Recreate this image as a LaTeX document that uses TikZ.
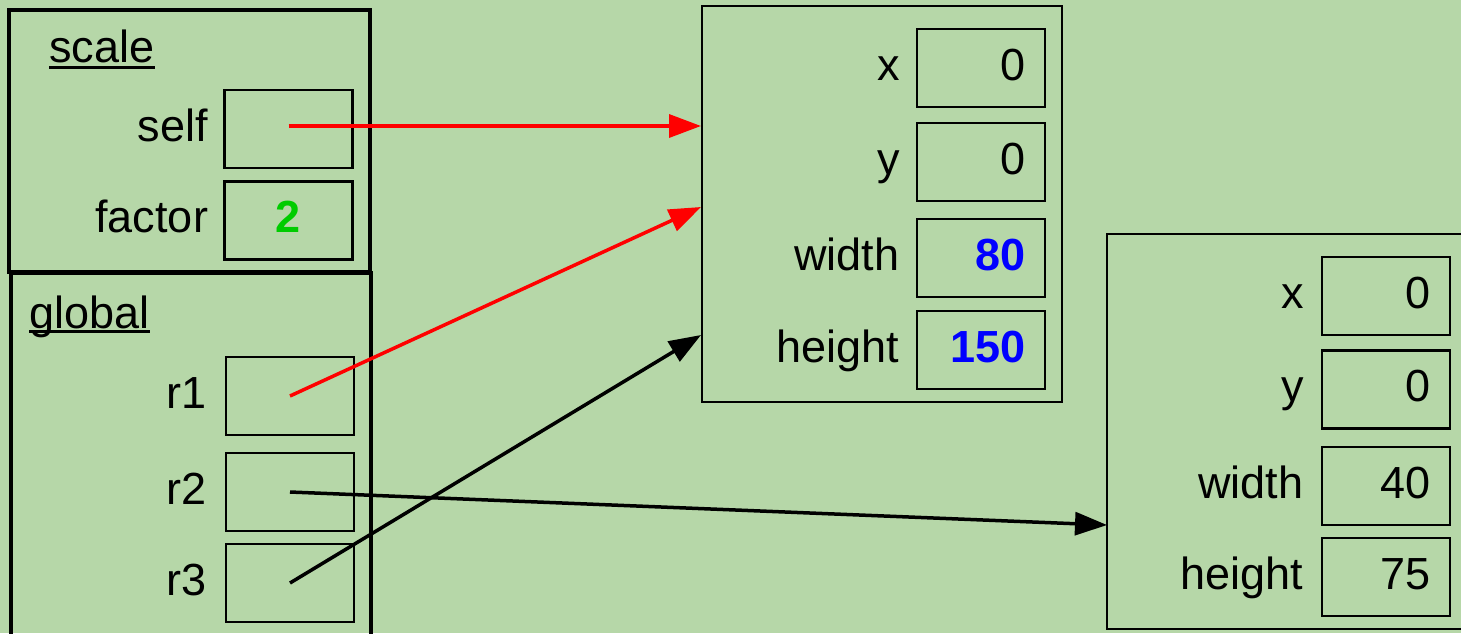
\documentclass[tikz,border=0pt]{standalone}
\usepackage{fontspec}
\setmainfont{Liberation Sans}
\usepackage{xcolor}
\usetikzlibrary{arrows.meta,positioning}
\definecolor{bggreen}{HTML}{B6D7A8}
\definecolor{valblue}{HTML}{0000FF}
\definecolor{valgreen}{HTML}{00CC00}

\begin{document}
\begin{tikzpicture}[x=0.5pt, y=-0.5pt, >={Triangle[length=16pt,width=11.5pt]},
    font=\fontsize{22.5}{27}\selectfont,
    stackframe/.style={draw, line width=1.75pt, inner sep=0pt},
    heapobj/.style={draw, line width=0.8pt, inner sep=0pt},
    cell/.style={draw, line width=1.1pt, minimum width=64pt, minimum height=39pt,
                 inner xsep=9.5pt, text width=45pt, align=right,
                 text height=16pt, text depth=4pt},
    fieldname/.style={inner sep=0pt, text height=12pt, text depth=0pt},
    framename/.style={inner sep=0pt, anchor=base west},
    pointer/.style={->, line width=1.75pt}]
  \path[use as bounding box, fill=bggreen] (0,0) rectangle (1461,633);
  \clip (0,0) rectangle (1461,633);

  % stack frames
  \node[stackframe, minimum width=180.5pt, minimum height=131pt] (scalefr) at (189.5,141) {};
  \node[stackframe, minimum width=180pt, minimum height=193.5pt] (globalfr) at (191,466.5) {};
  \node[framename] (scalet) at (49,62) {scale};
  \node[framename] (globalt) at (29,328) {global};
  \draw[line width=1.5pt] ([yshift=-2.5pt]scalet.base west) -- ([yshift=-2.5pt]scalet.base east);
  \draw[line width=1.5pt] ([yshift=-1.6pt]globalt.base west) -- ([yshift=-1.6pt]globalt.base east);

  \node[cell] (selfv) at (288.5,129) {};
  \node[cell, align=center, font=\fontsize{22.5}{27}\selectfont\bfseries, text=valgreen]
    (factorv) at (288.5,220.5) {2};
  \node[cell] (r1v) at (290,396) {};
  \node[cell] (r2v) at (290,492) {};
  \node[cell] (r3v) at (290,583) {};
  \node[fieldname, left=7.5pt of selfv] (selfl) {self};
  \node[fieldname, left=7.5pt of factorv] (factorl) {factor};
  \node[fieldname, left=9pt of r1v] (r1l) {r1};
  \node[fieldname, left=9pt of r2v] (r2l) {r2};
  \node[fieldname, left=9pt of r3v] (r3l) {r3};

  % first rectangle object
  \node[heapobj, minimum width=180pt, minimum height=198pt] (obja) at (882,204) {};
  \node[cell] (xa) at (981,68) {0};
  \node[cell] (ya) at (981,162) {0};
  \node[cell, text=valblue, font=\fontsize{22.5}{27}\selectfont\bfseries] (wa) at (981,258) {80};
  \node[cell, text=valblue, font=\fontsize{22.5}{27}\selectfont\bfseries] (ha) at (981,350) {150};
  \node[fieldname, left=8pt of xa] (xal) {x};
  \node[fieldname, left=8pt of ya] (yal) {y};
  \node[fieldname, left=8pt of wa] (wal) {width};
  \node[fieldname, left=8pt of ha] (hal) {height};

  % second rectangle object
  \node[heapobj, minimum width=191.5pt, minimum height=197.5pt] (objb) at (1298.5,431.5) {};
  \node[cell] (xb) at (1386,296) {0};
  \node[cell] (yb) at (1386,389.5) {0};
  \node[cell] (wb) at (1386,486) {40};
  \node[cell] (hb) at (1386,577) {75};
  \node[fieldname, left=8.5pt of xb] (xbl) {x};
  \node[fieldname, left=8.5pt of yb] (ybl) {y};
  \node[fieldname, left=8.5pt of wb] (wbl) {width};
  \node[fieldname, left=8.5pt of hb] (hbl) {height};

  % references
  \coordinate (ina1) at (701,126);
  \coordinate (ina2) at (701,207);
  \coordinate (ina3) at (701,335);
  \coordinate (inb1) at (1107,525);
  \draw[pointer, red] ([yshift=1.5pt]selfv.center) -- (ina1);
  \draw[pointer, red] (r1v.center) -- (ina2);
  \draw[pointer] (r3v.center) -- (ina3);
  \draw[pointer] (r2v.center) -- (inb1);
\end{tikzpicture}
\end{document}
